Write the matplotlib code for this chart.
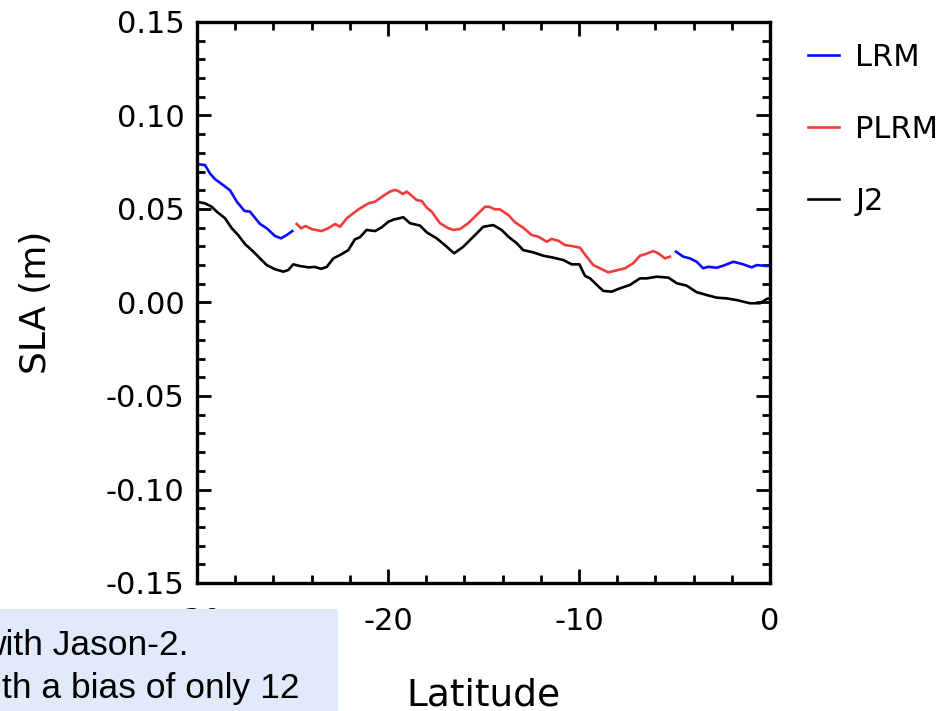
"""SLA along-track profile: LRM / PLRM versus Jason-2."""

import matplotlib
matplotlib.use("Agg")
import matplotlib.pyplot as plt
from matplotlib.patches import Rectangle
from matplotlib.ticker import MultipleLocator, FormatStrFormatter

# LRM, first segment (south)
lrm1_lat = [-30.0, -29.58, -29.32, -29.06, -28.71, -28.27, -27.92, -27.52,
            -27.23, -26.70, -26.35, -25.92, -25.60, -25.30, -25.01]
lrm1_sla = [0.074, 0.0735, 0.069, 0.066, 0.0634, 0.060, 0.054, 0.049,
            0.0486, 0.042, 0.0397, 0.0356, 0.0343, 0.0361, 0.0382]

# PLRM
plrm_lat = [-24.78, -24.55, -24.31, -23.99, -23.47, -23.13, -22.77, -22.51,
            -22.16, -21.55, -21.03, -20.68, -20.25, -19.90, -19.63, -19.46,
            -19.23, -19.02, -18.76, -18.50, -18.24, -17.97, -17.71, -17.28,
            -16.84, -16.58, -16.23, -15.80, -15.36, -14.92, -14.70, -14.40,
            -14.14, -13.70, -13.35, -12.92, -12.48, -12.13, -11.69, -11.43,
            -11.08, -10.73, -10.38, -9.95, -9.60, -9.25, -8.90, -8.47,
            -8.03, -7.59, -7.16, -6.81, -6.54, -6.11, -5.85, -5.50, -5.24]
plrm_sla = [0.042, 0.0397, 0.0409, 0.0392, 0.0382, 0.0397, 0.042, 0.0405,
            0.045, 0.0498, 0.053, 0.0539, 0.057, 0.0593, 0.0602, 0.0596,
            0.058, 0.0593, 0.0571, 0.0548, 0.0543, 0.0507, 0.0486, 0.0424,
            0.0397, 0.0388, 0.0393, 0.0424, 0.0468, 0.0512, 0.0512, 0.0498,
            0.0498, 0.0468, 0.0429, 0.040, 0.0361, 0.0352, 0.0325, 0.034,
            0.033, 0.0307, 0.0302, 0.0293, 0.0245, 0.020, 0.0183, 0.0161,
            0.0172, 0.0183, 0.021, 0.025, 0.0258, 0.0275, 0.0263, 0.0236, 0.0245]

# LRM, second segment (north)
lrm2_lat = [-4.92, -4.54, -4.19, -3.84, -3.50, -3.24, -2.79, -2.44,
            -1.92, -1.40, -0.96, -0.70, -0.17, 0.0]
lrm2_sla = [0.0272, 0.0245, 0.0236, 0.0218, 0.0183, 0.0191, 0.0186, 0.0197,
            0.0218, 0.0204, 0.0188, 0.020, 0.0195, 0.0197]

# Jason-2
j2_lat = [-30.0, -29.58, -29.23, -28.97, -28.53, -28.18, -27.84, -27.49,
          -27.05, -26.70, -26.35, -25.92, -25.48, -25.22, -24.96, -24.61,
          -24.17, -23.82, -23.51, -23.21, -22.86, -22.51, -22.08, -21.73,
          -21.47, -21.12, -20.68, -20.33, -19.98, -19.67, -19.54, -19.20,
          -18.85, -18.32, -17.97, -17.45, -17.02, -16.54, -16.06, -15.53,
          -15.01, -14.49, -14.05, -13.70, -13.26, -12.92, -12.39, -11.87,
          -11.35, -10.82, -10.38, -9.98, -9.69, -9.42, -9.07, -8.73,
          -8.29, -7.85, -7.33, -6.81, -6.46, -5.93, -5.32, -4.88,
          -4.36, -3.84, -3.31, -2.79, -2.27, -1.74, -1.05, -0.52, -0.17, 0.0]
j2_sla = [0.0539, 0.053, 0.0512, 0.0486, 0.045, 0.0397, 0.036, 0.0313,
          0.0272, 0.0236, 0.020, 0.0178, 0.0165, 0.0174, 0.0204, 0.0195,
          0.0188, 0.019, 0.018, 0.019, 0.0236, 0.0254, 0.028, 0.0338,
          0.0349, 0.0388, 0.0382, 0.0402, 0.0432, 0.0445, 0.0447, 0.0456,
          0.0424, 0.0411, 0.0375, 0.0343, 0.0307, 0.0263, 0.0298, 0.0352,
          0.0405, 0.0414, 0.0388, 0.0352, 0.0317, 0.028, 0.0268, 0.025,
          0.024, 0.0227, 0.0204, 0.0204, 0.0143, 0.0129, 0.0094, 0.0062,
          0.0058, 0.0076, 0.0094, 0.0129, 0.0129, 0.0138, 0.0133, 0.0103,
          0.009, 0.0055, 0.004, 0.0026, 0.0022, 0.0013, -0.0004, -0.0004, 0.0019, 0.0022]

note_lines = ["with Jason-2.", "th a bias of only 12"]

blue = "#0a0aff"
red = "#f23b3b"

plt.rcParams["font.family"] = ["DejaVu Sans"]
plt.rcParams["axes.unicode_minus"] = False

fig = plt.figure(figsize=(9.41, 7.11), dpi=100)
ax = fig.add_axes([197 / 941, 128 / 711, 573 / 941, 561 / 711])

lw = 1.9
ax.plot(lrm1_lat, lrm1_sla, color=blue, lw=lw, label="LRM")
ax.plot(plrm_lat, plrm_sla, color=red, lw=lw, label="PLRM")
ax.plot(j2_lat, j2_sla, color="black", lw=lw, label="J2")
ax.plot(lrm2_lat, lrm2_sla, color=blue, lw=lw)

ax.set_xlim(-30, 0)
ax.set_ylim(-0.15, 0.15)
ax.xaxis.set_major_locator(MultipleLocator(10))
ax.xaxis.set_minor_locator(MultipleLocator(2))
ax.yaxis.set_major_locator(MultipleLocator(0.05))
ax.yaxis.set_minor_locator(MultipleLocator(0.01))
ax.yaxis.set_major_formatter(FormatStrFormatter("%.2f"))

for spine in ax.spines.values():
    spine.set_linewidth(2.4)
ax.tick_params(which="both", direction="in", top=True, right=True, width=2.0)
ax.tick_params(which="major", length=10)
ax.tick_params(which="minor", length=5.5)
ax.tick_params(axis="x", which="major", labelsize=22, pad=17)
ax.tick_params(axis="y", which="major", labelsize=22, pad=9)

ax.set_xlabel("Latitude", fontsize=27)
ax.xaxis.set_label_coords(0.5, -0.168)
ax.set_ylabel("SLA (m)", fontsize=26)
ax.yaxis.set_label_coords(-0.252, 0.5)

ax.legend(loc="upper left", bbox_to_anchor=(808 / 941, 1 - 43 / 711),
          bbox_transform=fig.transFigure, frameon=False, fontsize=22,
          borderpad=0, borderaxespad=0, handlelength=1.0,
          handletextpad=0.55, labelspacing=1.41)

# overlapping slide box in the lower left corner
fig.patches.append(Rectangle((0, 0), 338 / 941, 102 / 711,
                             transform=fig.transFigure, facecolor="#e1eafb",
                             edgecolor="none", zorder=5))
fig.text(-20 / 941, 1 - 655 / 711, note_lines[0], fontsize=25.5,
         family=["Liberation Sans"], va="baseline", ha="left", zorder=6)
fig.text(2 / 941, 1 - 698 / 711, note_lines[1], fontsize=25.5,
         family=["Liberation Sans"], va="baseline", ha="left", zorder=6)

fig.savefig("out.png", dpi=100)
